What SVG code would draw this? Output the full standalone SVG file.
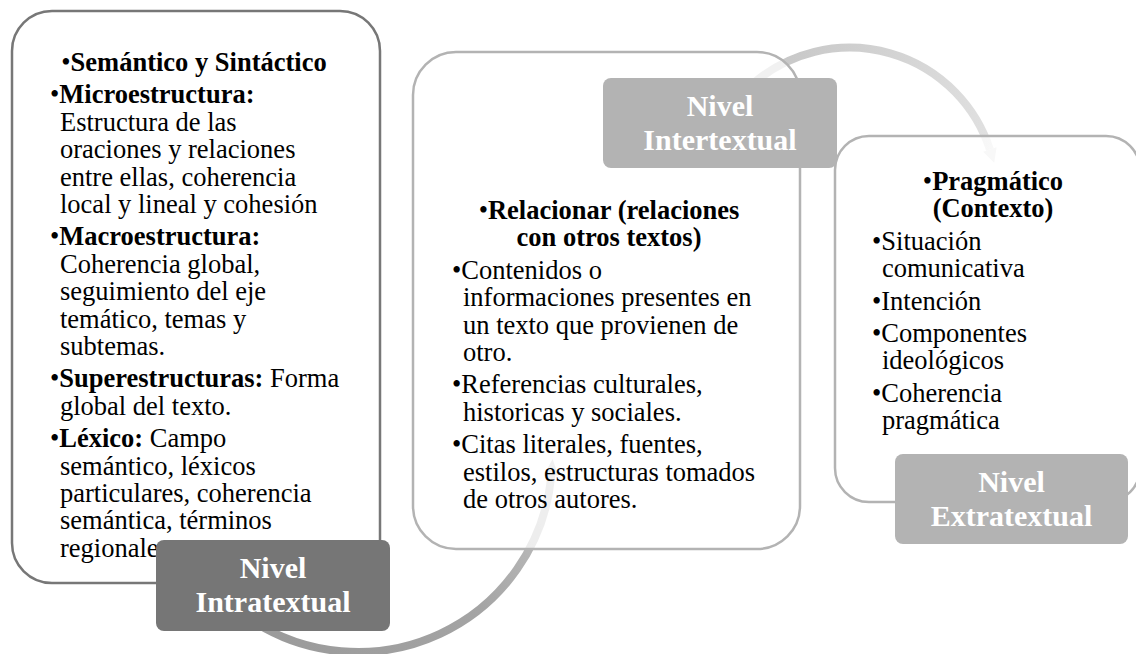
<svg xmlns="http://www.w3.org/2000/svg" width="1136" height="654" viewBox="0 0 1136 654">
<style>
.box{fill:#ffffff;fill-opacity:0.75;stroke-width:2.5}
.lab{stroke:none}
.t{font-family:"Liberation Serif","Times New Roman",serif;font-size:26.5px;fill:#000}
.b{font-weight:bold}
.c{text-anchor:middle}
.lt{font-family:"Liberation Serif","Times New Roman",serif;font-size:30px;font-weight:bold;fill:#ffffff;text-anchor:middle}
</style>
<defs>
<linearGradient id="g1" gradientUnits="userSpaceOnUse" x1="250" y1="640" x2="555" y2="460">
<stop offset="0" stop-color="#9a9a9a"/>
<stop offset="0.6" stop-color="#a4a4a4"/>
<stop offset="1" stop-color="#c4c4c4"/>
</linearGradient>
<linearGradient id="g2" gradientUnits="userSpaceOnUse" x1="755" y1="80" x2="995" y2="165">
<stop offset="0" stop-color="#c6c6c6"/>
<stop offset="1" stop-color="#e2e2e2"/>
</linearGradient>
</defs>
<g id="connectors">
<path d="M 246.7 616.9 A 194 194 0 0 0 551.3 474.9" fill="none" stroke="url(#g1)" stroke-width="8"/>
<polygon points="552.6,459 558.3,475.5 544.3,474.3" fill="#c4c4c4"/>
<path d="M 754.8 82.1 A 147.5 147.5 0 0 1 989.9 149.5" fill="none" stroke="url(#g2)" stroke-width="8"/>
<polygon points="994.2,162.8 996.6,147.3 983.2,151.7" fill="#e2e2e2"/>
</g>
<g id="box-intratextual">
<rect class="box" x="12" y="11" width="368" height="572" rx="40" stroke="#777777"/>
<text class="t b c" x="194" y="71"><tspan font-weight="normal">•</tspan>Semántico y Sintáctico</text>
<text class="t" x="50" y="103.4">•<tspan class="b">Microestructura:</tspan></text>
<text class="t" x="60" y="130.8">Estructura de las</text>
<text class="t" x="60" y="158.2">oraciones y relaciones</text>
<text class="t" x="60" y="185.6">entre ellas, coherencia</text>
<text class="t" x="60" y="213">local y lineal y cohesión</text>
<text class="t" x="50" y="245.4">•<tspan class="b">Macroestructura:</tspan></text>
<text class="t" x="60" y="272.8">Coherencia global,</text>
<text class="t" x="60" y="300.2">seguimiento del eje</text>
<text class="t" x="60" y="327.6">temático, temas y</text>
<text class="t" x="60" y="355">subtemas.</text>
<text class="t" x="50" y="387.4">•<tspan class="b">Superestructuras:</tspan> Forma</text>
<text class="t" x="60" y="414.8">global del texto.</text>
<text class="t" x="50" y="447.2">•<tspan class="b">Léxico:</tspan> Campo</text>
<text class="t" x="60" y="474.6">semántico, léxicos</text>
<text class="t" x="60" y="502">particulares, coherencia</text>
<text class="t" x="60" y="529.4">semántica, términos</text>
<text class="t" x="60" y="556.8">regionales.</text>
</g>
<g id="box-intertextual">
<rect class="box" x="413" y="52" width="387" height="497" rx="43" stroke="#b3b3b3"/>
<text class="t b c" x="609" y="219"><tspan font-weight="normal">•</tspan>Relacionar (relaciones</text>
<text class="t b c" x="609" y="246.4">con otros textos)</text>
<text class="t" x="452" y="278.8">•Contenidos o</text>
<text class="t" x="463" y="306.2">informaciones presentes en</text>
<text class="t" x="463" y="333.6">un texto que provienen de</text>
<text class="t" x="463" y="361">otro.</text>
<text class="t" x="452" y="393.4">•Referencias culturales,</text>
<text class="t" x="463" y="420.8">historicas y sociales.</text>
<text class="t" x="452" y="453.2">•Citas literales, fuentes,</text>
<text class="t" x="463" y="480.6">estilos, estructuras tomados</text>
<text class="t" x="463" y="508">de otros autores.</text>
</g>
<g id="box-extratextual">
<rect class="box" x="835" y="136" width="305" height="366" rx="34" stroke="#b3b3b3"/>
<text class="t b c" x="993" y="190"><tspan font-weight="normal">•</tspan>Pragmático</text>
<text class="t b c" x="993" y="217.4">(Contexto)</text>
<text class="t" x="872" y="249.8">•Situación</text>
<text class="t" x="882" y="277.2">comunicativa</text>
<text class="t" x="872" y="309.6">•Intención</text>
<text class="t" x="872" y="342">•Componentes</text>
<text class="t" x="882" y="369.4">ideológicos</text>
<text class="t" x="872" y="401.8">•Coherencia</text>
<text class="t" x="882" y="429.2">pragmática</text>
</g>
<g id="label-intratextual">
<rect class="lab" x="156" y="540" width="234" height="91" rx="8" fill="#767676"/>
<text class="lt" x="273" y="578"><tspan x="273">Nivel</tspan><tspan x="273" dy="33.5">Intratextual</tspan></text>
</g>
<g id="label-intertextual">
<rect class="lab" x="603" y="78" width="234" height="90" rx="8" fill="#b3b3b3"/>
<text class="lt" x="720" y="116"><tspan x="720">Nivel</tspan><tspan x="720" dy="33.5">Intertextual</tspan></text>
</g>
<g id="label-extratextual">
<rect class="lab" x="895" y="454" width="233" height="90" rx="8" fill="#b3b3b3"/>
<text class="lt" x="1011.5" y="492"><tspan x="1011.5">Nivel</tspan><tspan x="1011.5" dy="33.5">Extratextual</tspan></text>
</g>
</svg>
